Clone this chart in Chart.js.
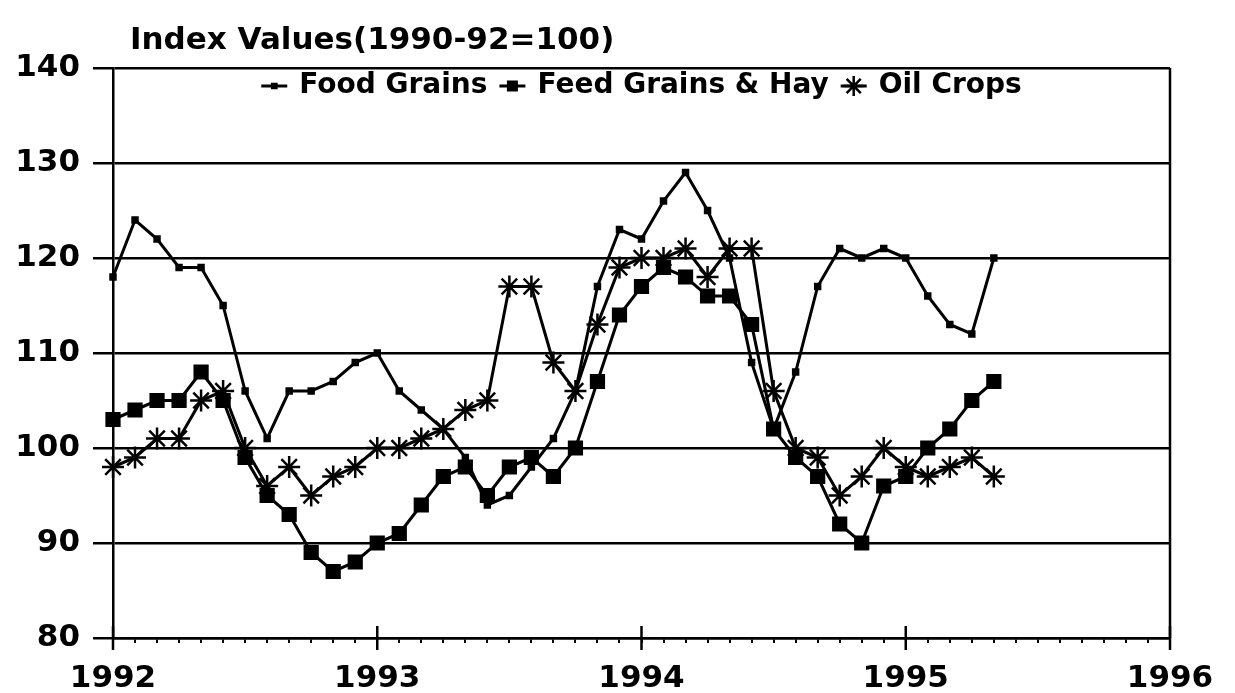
<!DOCTYPE html>
<html>
<head>
<meta charset="utf-8">
<title>Index Values(1990-92=100)</title>
<script src="https://cdn.jsdelivr.net/npm/chart.js@4.4.1/dist/chart.umd.min.js"></script>
<style>
  body { margin: 0; background: #fff; }
  #myChart { display: block; }
</style>
</head>
<body>
<canvas id="myChart" width="1235" height="693"></canvas>
<script>
// x axis: months counted from Jan 1992, labelled by year
const yearLabels = ['1992', '1993', '1994', '1995', '1996'];

// monthly index values, Jan 1992 .. May 1995
const foodGrains = [118, 124, 122, 119, 119, 115, 106, 101, 106, 106, 107, 109,
  110, 106, 104, 102, 99, 94, 95, 98, 101, 106, 117, 123,
  122, 126, 129, 125, 120, 109, 102, 108, 117, 121, 120, 121,
  120, 116, 113, 112, 120];
const feedGrains = [103, 104, 105, 105, 108, 105, 99, 95, 93, 89, 87, 88,
  90, 91, 94, 97, 98, 95, 98, 99, 97, 100, 107, 114,
  117, 119, 118, 116, 116, 113, 102, 99, 97, 92, 90, 96,
  97, 100, 102, 105, 107];
const oilCrops = [98, 99, 101, 101, 105, 106, 100, 96, 98, 95, 97, 98,
  100, 100, 101, 102, 104, 105, 117, 117, 109, 106, 113, 119,
  120, 120, 121, 118, 121, 121, 106, 100, 99, 95, 97, 100,
  98, 97, 98, 99, 97];

function toPoints(values) {
  return values.map((v, i) => ({ x: i, y: v }));
}

function serie(label, values, style, radius, legendRadius) {
  return {
    label: label,
    data: toPoints(values),
    borderColor: '#000',
    backgroundColor: '#000',
    borderWidth: 3,
    pointStyle: style,
    pointRadius: radius,
    pointHoverRadius: radius,
    pointBackgroundColor: '#000',
    pointBorderColor: '#000',
    pointBorderWidth: 2.5,
    legendRadius: legendRadius,
    tension: 0,
    fill: false,
    clip: false
  };
}

// title, legend in the plot, right frame and year ticks
const extras = {
  id: 'extras',
  afterDraw(chart) {
    const ctx = chart.ctx;
    const area = chart.chartArea;
    const xScale = chart.scales.x;
    ctx.save();
    ctx.strokeStyle = '#000';
    ctx.fillStyle = '#000';
    ctx.lineWidth = 2.5;

    ctx.beginPath();
    ctx.moveTo(area.right, area.top);
    ctx.lineTo(area.right, area.bottom);
    ctx.stroke();

    yearLabels.forEach((y, i) => {
      const px = xScale.getPixelForValue(i * 12);
      ctx.beginPath();
      ctx.moveTo(px, area.bottom - 12);
      ctx.lineTo(px, area.bottom + 12);
      ctx.stroke();
    });

    ctx.font = 'bold 31px "DejaVu Sans"';
    ctx.textAlign = 'left';
    ctx.textBaseline = 'alphabetic';
    ctx.fillText('Index Values(1990-92=100)', 130, 49);

    ctx.font = 'bold 28px "DejaVu Sans"';
    ctx.textBaseline = 'middle';
    const sets = chart.data.datasets;
    const markW = 26, gapText = 12, gapItem = 12;
    let total = 0;
    sets.forEach((ds, i) => {
      total += markW + gapText + ctx.measureText(ds.label).width + (i ? gapItem : 0);
    });
    let x = (area.left + area.right) / 2 - total / 2;
    const y = 86;
    sets.forEach((ds, i) => {
      if (i) x += gapItem;
      ctx.lineWidth = 3;
      ctx.beginPath();
      ctx.moveTo(x, y);
      ctx.lineTo(x + markW, y);
      ctx.stroke();
      ctx.lineWidth = 2.5;
      Chart.helpers.drawPoint(ctx, {
        pointStyle: ds.pointStyle,
        radius: ds.legendRadius,
        borderWidth: 2.5,
        rotation: 0
      }, x + markW / 2, y);
      x += markW + gapText;
      ctx.fillText(ds.label, x, y);
      x += ctx.measureText(ds.label).width;
    });
    ctx.restore();
  }
};

function plotChart() {
  const ctx = document.getElementById('myChart');
  Chart.defaults.font.family = '"DejaVu Sans"';
  new Chart(ctx, {
    type: 'line',
    data: {
      datasets: [
        serie('Food Grains', foodGrains, 'rect', 3.5, 3),
        serie('Feed Grains & Hay', feedGrains, 'rect', 9, 6),
        serie('Oil Crops', oilCrops, 'star', 11, 10)
      ]
    },
    options: {
      responsive: false,
      animation: false,
      layout: {
        padding: { top: 68, right: 65, left: 0, bottom: 0 }
      },
      scales: {
        x: {
          type: 'linear',
          min: 0,
          max: 48,
          afterFit: (s) => { s.height = 55; },
          border: { color: '#000', width: 2.5 },
          grid: {
            drawOnChartArea: false,
            drawTicks: true,
            tickLength: 5,
            color: '#000',
            lineWidth: 2
          },
          ticks: {
            stepSize: 1,
            autoSkip: false,
            maxRotation: 0,
            minRotation: 0,
            padding: 17,
            color: '#000',
            font: { size: 31, weight: 'bold' },
            callback: (v) => (v % 12 === 0 ? yearLabels[v / 12] : '')
          }
        },
        y: {
          min: 80,
          max: 140,
          afterFit: (s) => { s.width = 113; },
          border: { color: '#000', width: 2.5 },
          grid: {
            color: '#000',
            lineWidth: 2.5,
            tickLength: 20
          },
          ticks: {
            stepSize: 10,
            padding: 13,
            color: '#000',
            font: { size: 31, weight: 'bold' }
          }
        }
      },
      plugins: {
        colors: { enabled: false },
        legend: { display: false },
        title: { display: false },
        tooltip: { enabled: false }
      }
    },
    plugins: [extras]
  });
}

plotChart();
</script>
</body>
</html>
